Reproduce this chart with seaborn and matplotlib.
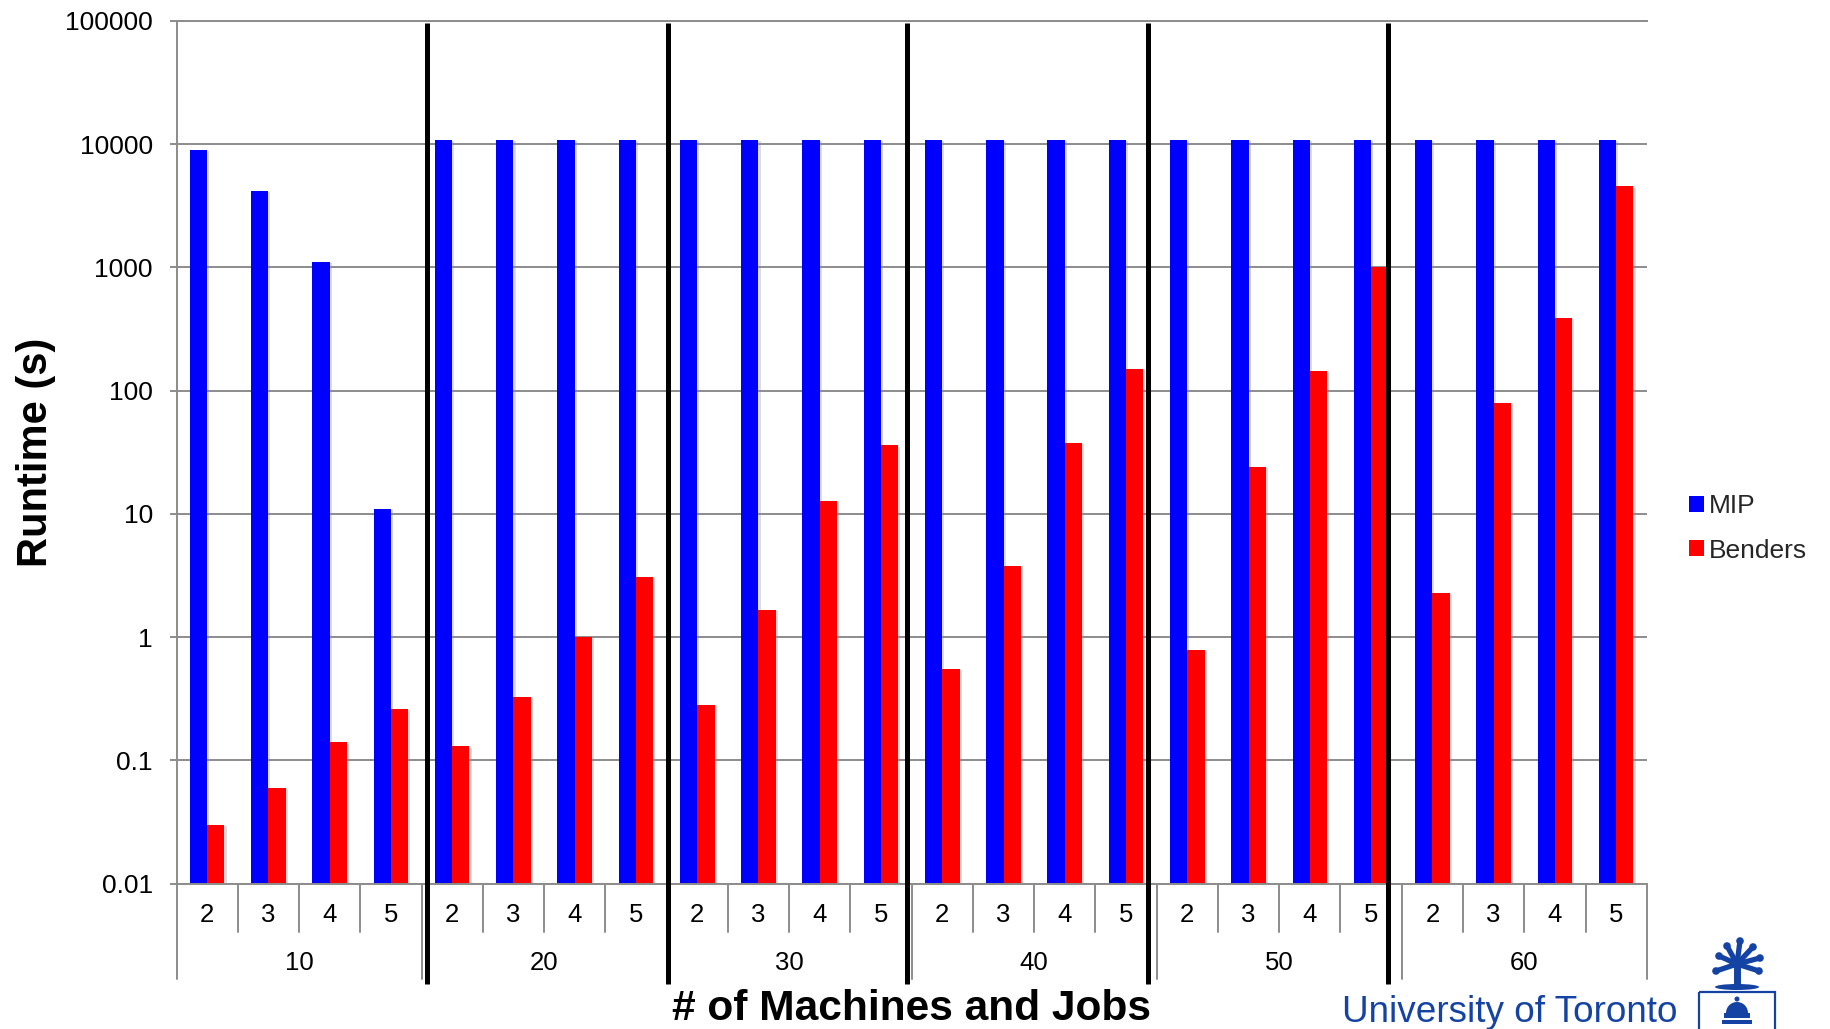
import numpy as np
import pandas as pd
import matplotlib
matplotlib.use("Agg")
import matplotlib.pyplot as plt
import matplotlib.patheffects as pe
from matplotlib.patches import Rectangle, Circle, Ellipse, Wedge, Patch
from matplotlib.ticker import NullLocator
from matplotlib.transforms import blended_transform_factory
import seaborn as sns

# ---- data -------------------------------------------------------------
jobs = [10, 20, 30, 40, 50, 60]
machines = [2, 3, 4, 5]

mip_runtime = [9000, 4200, 1100, 11,
               10800, 10800, 10800, 10800,
               10800, 10800, 10800, 10800,
               10800, 10800, 10800, 10800,
               10800, 10800, 10800, 10800,
               10800, 10800, 10800, 10800]

benders_runtime = [0.03, 0.06, 0.14, 0.26,
                   0.13, 0.33, 1.0, 3.1,
                   0.28, 1.67, 12.7, 36,
                   0.55, 3.8, 38, 150,
                   0.79, 24, 145, 1010,
                   2.3, 80, 388, 4550]

ytick_values = [0.01, 0.1, 1, 10, 100, 1000, 10000, 100000]
ytick_labels = ["0.01", "0.1", "1", "10", "100", "1000", "10000", "100000"]

# hand-drawn separators between the job groups (x in category units)
separator_x = [3.59, 7.52, 11.42, 15.35, 19.27]

# ---- figure -----------------------------------------------------------
sns.set_theme(style="white")
plt.rcParams["font.family"] = ["Liberation Sans", "DejaVu Sans"]

W, H = 1830, 1029
GRID = "#8c8c8c"
fig = plt.figure(figsize=(W / 100, H / 100), dpi=100)
ax = fig.add_axes([176.5 / W, 1 - 883.7 / H, (1646.8 - 176.5) / W, (883.7 - 21) / H])
ax.set_yscale("log")

cells = [f"{j}-{m}" for j in jobs for m in machines]
df = pd.DataFrame({
    "cell": cells * 2,
    "method": ["MIP"] * len(cells) + ["Benders"] * len(cells),
    "runtime": mip_runtime + benders_runtime,
})

sns.barplot(data=df, x="cell", y="runtime", hue="method", order=cells,
            hue_order=["MIP", "Benders"],
            palette={"MIP": "#0000FF", "Benders": "#FF0000"},
            width=0.565, errorbar=None, saturation=1, linewidth=0,
            legend=False, ax=ax)

for p in ax.patches:
    p.set_path_effects([pe.SimplePatchShadow(offset=(1.5, -0.8),
                                             shadow_rgbFace=(0.55, 0.55, 0.55),
                                             alpha=0.3),
                        pe.Normal()])

ax.set_xlim(-0.5, len(cells) - 0.5)
ax.set_ylim(0.01, 100000)
ax.set_yticks(ytick_values)
ax.set_yticklabels(ytick_labels)
ax.yaxis.set_minor_locator(NullLocator())
ax.grid(axis="y", color=GRID, lw=1.4)
ax.grid(axis="x", visible=False)
ax.set_axisbelow(True)

for side in ["top", "bottom", "left"]:
    ax.spines[side].set_visible(True)
    ax.spines[side].set_color(GRID)
    ax.spines[side].set_linewidth(1.4)
ax.spines["right"].set_visible(False)

ax.tick_params(axis="y", which="major", left=True, length=5, width=1.4,
               color=GRID, pad=12, labelsize=19, labelcolor="black")
ax.tick_params(axis="x", bottom=False, labelbottom=False)

# ---- two-level category axis -------------------------------------------
trans = blended_transform_factory(ax.transData, ax.transAxes)
axh = 883.7 - 21
cat_len = 48 / axh
grp_len = 95.3 / axh
for i in range(len(cells) + 1):
    length = grp_len if i % len(machines) == 0 else cat_len
    ax.plot([i - 0.5, i - 0.5], [0, -length], transform=trans,
            clip_on=False, color=GRID, lw=1.4)

for i, cell in enumerate(cells):
    ax.text(i, -31.3 / axh, cell.split("-")[1], transform=trans,
            ha="center", va="center", fontsize=18.5, color="black")
for g, j in enumerate(jobs):
    ax.text(g * len(machines) + (len(machines) - 1) / 2, -79.3 / axh, str(j),
            transform=trans, ha="center", va="center", fontsize=18.5, color="black")

for x in separator_x:
    ax.plot([x, x], [(883.7 - 23) / axh, -(984 - 883.7) / axh], transform=trans,
            clip_on=False, color="black", lw=3.6, zorder=6, solid_capstyle="butt")

ax.set_xlabel("# of Machines and Jobs", fontsize=30.6, fontweight="bold",
              color="black", va="baseline")
ax.xaxis.set_label_coords(0.5, -(1019.5 - 883.7) / axh)
ax.set_ylabel("Runtime (s)", fontsize=30, fontweight="bold", color="black",
              va="center")
ax.yaxis.set_label_coords((36 - 176.5) / (1646.8 - 176.5), 0.5)

# ---- legend -------------------------------------------------------------
handles = [Patch(facecolor="#0000FF", edgecolor="none"),
           Patch(facecolor="#FF0000", edgecolor="none")]
ax.legend(handles, ["MIP", "Benders"], loc="upper left",
          bbox_to_anchor=(1689 / W, 1 - 494 / H), bbox_transform=fig.transFigure,
          frameon=False, fontsize=19, handlelength=0.55, handleheight=0.55,
          handletextpad=0.22, labelspacing=0.78, borderpad=0, borderaxespad=0)

# ---- footer: university name and crest ----------------------------------
UOFT = "#1443A3"
fig.text(1342 / W, (H - 1021.5) / H, "University of Toronto", fontsize=26.6,
         color=UOFT, ha="left", va="baseline")

lax = fig.add_axes([1688 / W, 0, 100 / W, 96 / H])
lax.set_xlim(1688, 1788)
lax.set_ylim(1029, 933)
lax.axis("off")
lax.add_patch(Rectangle((1699, 992), 76, 50, fill=False, ec=UOFT, lw=1.6))
# crown
lax.add_patch(Wedge((1737, 1013), 11, 180, 360, fc=UOFT, ec="none"))
lax.add_patch(Rectangle((1724, 1013), 26, 5, fc=UOFT, ec="none"))
lax.add_patch(Rectangle((1722, 1020), 30, 4, fc=UOFT, ec="none"))
lax.add_patch(Circle((1737, 999), 2.5, fc=UOFT, ec="none"))
# tree
lax.plot([1737, 1737], [987, 962], color=UOFT, lw=5, solid_capstyle="butt")
lax.add_patch(Ellipse((1737, 987), 44, 6, fc=UOFT, ec="none"))
lax.add_patch(Ellipse((1737, 962), 16, 10, fc=UOFT, ec="none"))
tips = [(1716, 971), (1719, 956), (1727, 946), (1740, 941),
        (1753, 947), (1760, 958), (1759, 971)]
for tx, ty in tips:
    lax.plot([1737, tx], [964, ty], color=UOFT, lw=3.8, solid_capstyle="round")
    lax.add_patch(Circle((tx, ty), 3.8, fc=UOFT, ec="none"))

fig.savefig("out.png", dpi=100, facecolor="white")
